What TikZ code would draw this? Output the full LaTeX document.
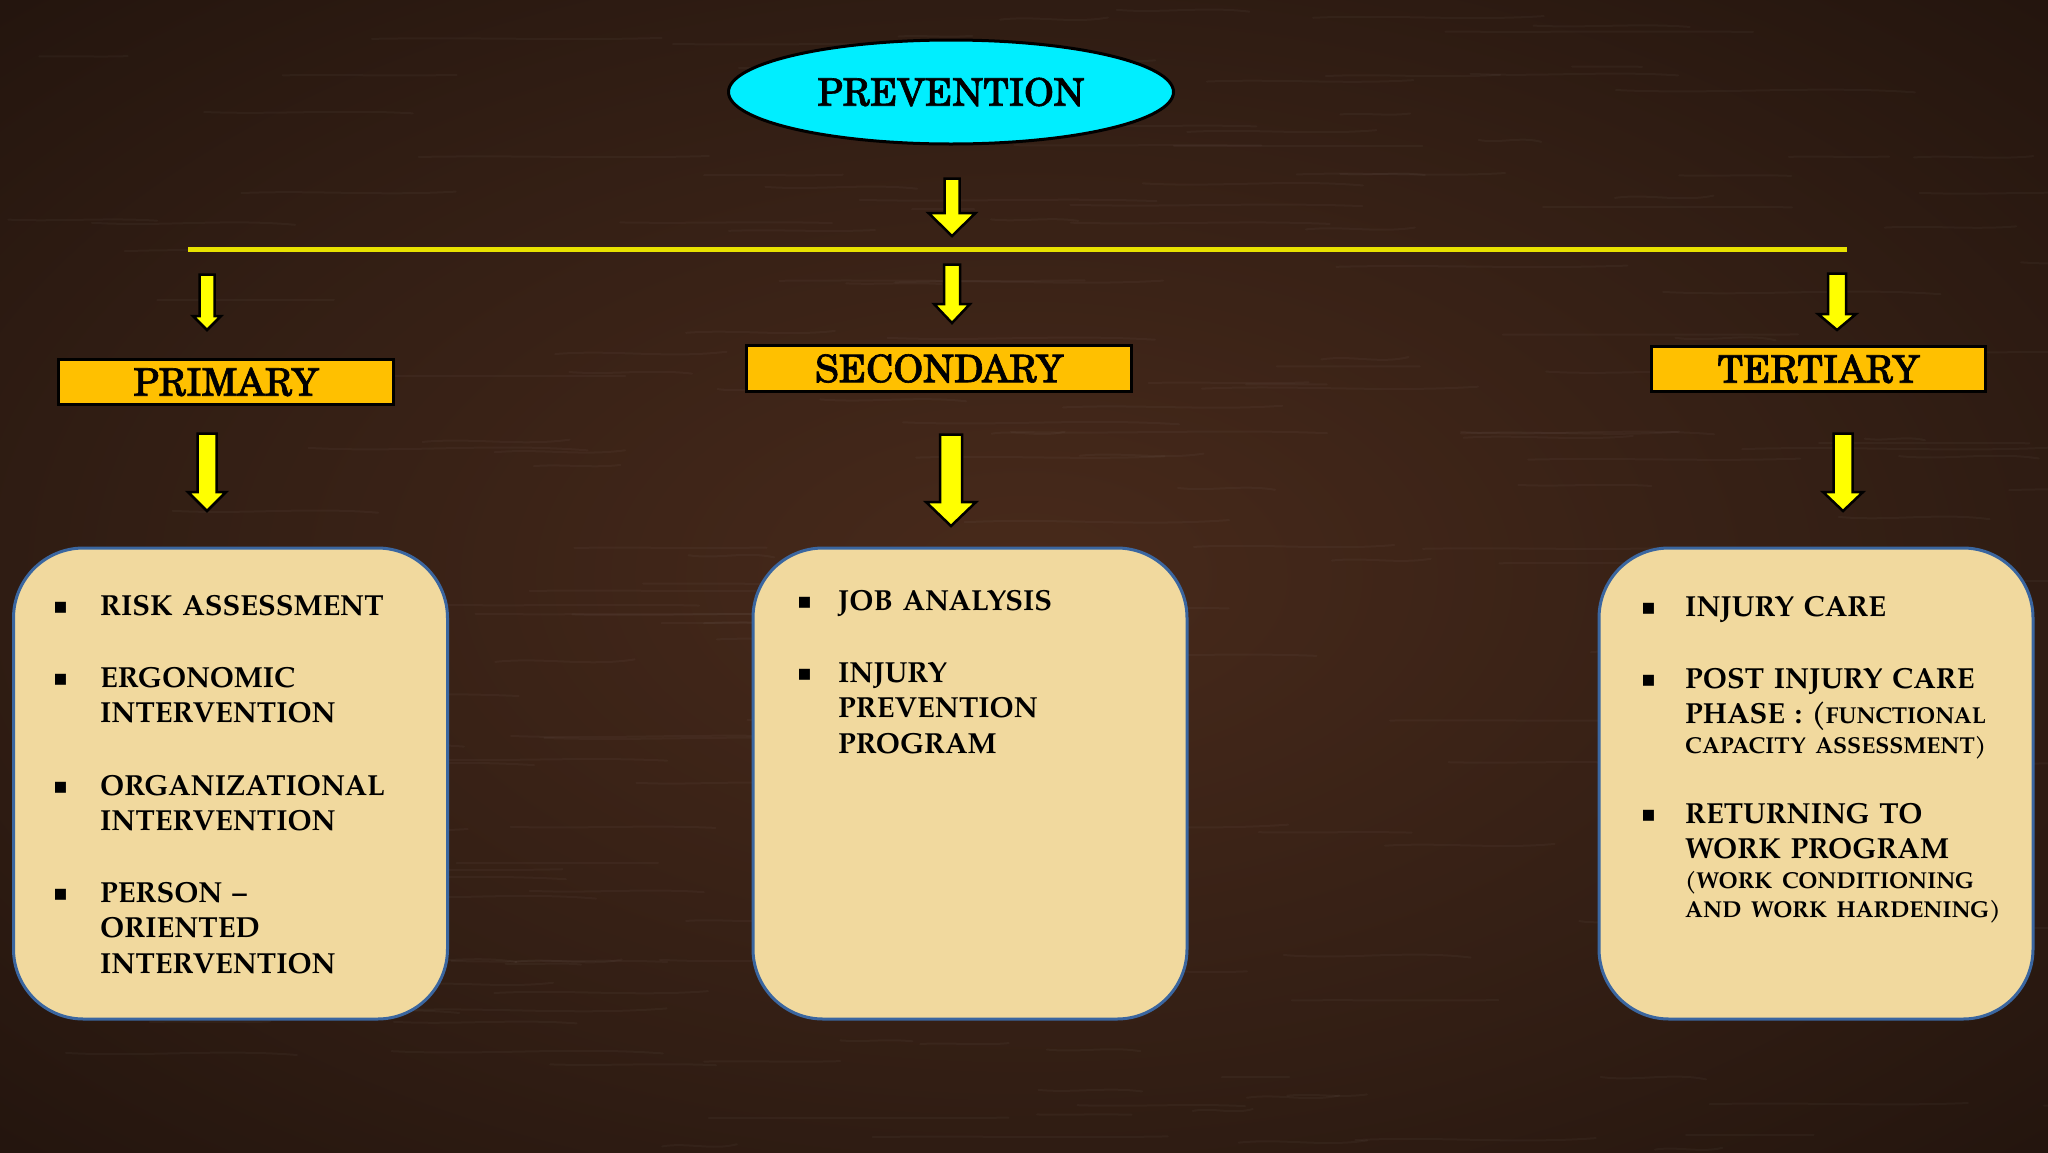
\documentclass[tikz,border=0pt]{standalone}
\usepackage{fontspec}
\setmainfont{TeX Gyre Pagella}
\newfontfamily\hdrfont[FakeBold=1.6]{TeX Gyre Schola}
\newfontfamily\bulfont{DejaVu Sans}
\usetikzlibrary{shapes.geometric}
\definecolor{woodin}{RGB}{72,42,27}
\definecolor{woodmid}{RGB}{50,30,20}
\definecolor{woodout}{RGB}{20,11,7}
\definecolor{cyanfill}{RGB}{0,238,255}
\definecolor{goldfill}{RGB}{255,192,0}
\definecolor{tanfill}{RGB}{241,217,158}
\definecolor{boxblue}{RGB}{58,102,160}
\definecolor{arrowyellow}{RGB}{255,255,0}
\definecolor{lineyellow}{RGB}{232,226,0}
\pgfdeclareradialshading{woodshade}{\pgfpoint{0bp}{0bp}}{color(0bp)=(woodin); color(22bp)=(woodmid); color(50bp)=(woodout); color(80bp)=(woodout)}
% #1 x centre, #2 y top, #3 y tip, #4 shaft half width, #5 head half width, #6 head length
\newcommand{\blockarrow}[6]{%
  \draw[blockarr] (#1-#4,#2) -- (#1+#4,#2) -- (#1+#4,#3-#6) -- (#1+#5,#3-#6)
    -- (#1,#3) -- (#1-#5,#3-#6) -- (#1-#4,#3-#6) -- cycle;}
\newcommand{\smalltxt}{\fontsize{23}{26}\selectfont}
\begin{document}
\begin{tikzpicture}[x=1pt,y=-1pt,
  blockarr/.style={fill=arrowyellow,draw=black,line width=2.5pt,line join=miter},
  hdrbox/.style={draw=black,line width=3pt,fill=goldfill,inner sep=0pt,
    font=\hdrfont\fontsize{38}{40}\selectfont},
  contentbox/.style={draw=boxblue,line width=3pt,fill=tanfill,rounded corners=70pt,
    inner sep=0pt,minimum width=434pt,minimum height=471pt},
  item/.style={anchor=base west,inner sep=0pt,text width=320pt,align=left,
    font=\bfseries\fontsize{29}{35.5}\selectfont},
  bulletmark/.style={anchor=base west,inner sep=0pt,font=\bulfont\fontsize{22}{22}\selectfont},
]
\useasboundingbox (0,0) rectangle (2048,1152);
\shade[shading=woodshade] (0,0) rectangle (2048,1152);
% faint wood grain
\pgfmathsetseed{7}
\foreach \i in {1,...,220}{
  \pgfmathsetmacro{\gx}{rnd*2048}
  \pgfmathsetmacro{\gy}{rnd*1152}
  \pgfmathsetmacro{\gl}{60+rnd*260}
  \pgfmathsetmacro{\gd}{(rnd-0.5)*10}
  \draw[white,opacity=0.03,line width=2pt,line cap=round]
    (\gx,\gy) .. controls (\gx+\gl/3,\gy+\gd) and (\gx+2*\gl/3,\gy-\gd) .. (\gx+\gl,\gy+\gd/2);
}

% top node
\node[ellipse,draw=black,line width=3pt,fill=cyanfill,minimum width=445pt,minimum height=104pt,
  inner sep=0pt,font=\hdrfont\fontsize{38}{40}\selectfont] (prev) at (951,92) {PREVENTION};

\blockarrow{952}{178.5}{236}{7.5}{23.5}{23}
\coordinate (lineL) at (188,249.5);
\coordinate (lineR) at (1847,249.5);
\draw[lineyellow,line width=5pt] (lineL) -- (lineR);

% level-2 arrows
\blockarrow{207}{274.5}{330}{7.5}{14}{14}
\blockarrow{952}{264.5}{323}{8}{18}{19}
\blockarrow{1837}{273.5}{330}{9}{19}{16}

% level-2 boxes
\node[hdrbox,minimum width=335pt,minimum height=45pt] (prim) at (226,382) {PRIMARY};
\node[hdrbox,minimum width=385pt,minimum height=46pt] (sec) at (939,368.5) {SECONDARY};
\node[hdrbox,minimum width=334pt,minimum height=45pt] (ter) at (1818.5,369) {TERTIARY};

% level-3 arrows
\blockarrow{207}{433.5}{511}{9.5}{19}{19}
\blockarrow{951}{434.5}{526}{11}{25}{24}
\blockarrow{1843}{433.5}{511}{9.5}{20}{19}

% content boxes
\node[contentbox] (cprim) at (230.5,783.5) {};
\node[contentbox] (csec) at (970,783.5) {};
\node[contentbox] (cter) at (1816,783.5) {};

% primary items
\node[bulletmark] (pb1) at (53,613) {▪};
\node[item] (pi1) at (100,615) {RISK ASSESSMENT};
\node[bulletmark] (pb2) at (53,685) {▪};
\node[item] (pi2) at (100,687) {ERGONOMIC\\INTERVENTION};
\node[bulletmark] (pb3) at (53,793) {▪};
\node[item] (pi3) at (100,795) {ORGANIZATIONAL\\INTERVENTION};
\node[bulletmark] (pb4) at (53,900) {▪};
\node[item] (pi4) at (100,902) {PERSON –\\ORIENTED\\INTERVENTION};

% secondary items
\node[bulletmark] (sb1) at (797,608) {▪};
\node[item] (si1) at (838,610) {JOB ANALYSIS};
\node[bulletmark] (sb2) at (797,680) {▪};
\node[item] (si2) at (838,682) {INJURY\\PREVENTION\\PROGRAM};

% tertiary items
\node[bulletmark] (tb1) at (1641,614) {▪};
\node[item] (ti1) at (1685,616) {INJURY CARE};
\node[bulletmark] (tb2) at (1641,686) {▪};
\node[item] (ti2) at (1685,688) {POST INJURY CARE\\PHASE : ({\smalltxt FUNCTIONAL}\\[-5.5pt]{\smalltxt CAPACITY ASSESSMENT)}};
\node[bulletmark] (tb3) at (1641,821) {▪};
\node[item] (ti3) at (1685,823) {RETURNING TO\\WORK PROGRAM\\[-5.5pt]{\smalltxt (WORK CONDITIONING}\\[-6.5pt]{\smalltxt AND WORK HARDENING)}};
\end{tikzpicture}
\end{document}
